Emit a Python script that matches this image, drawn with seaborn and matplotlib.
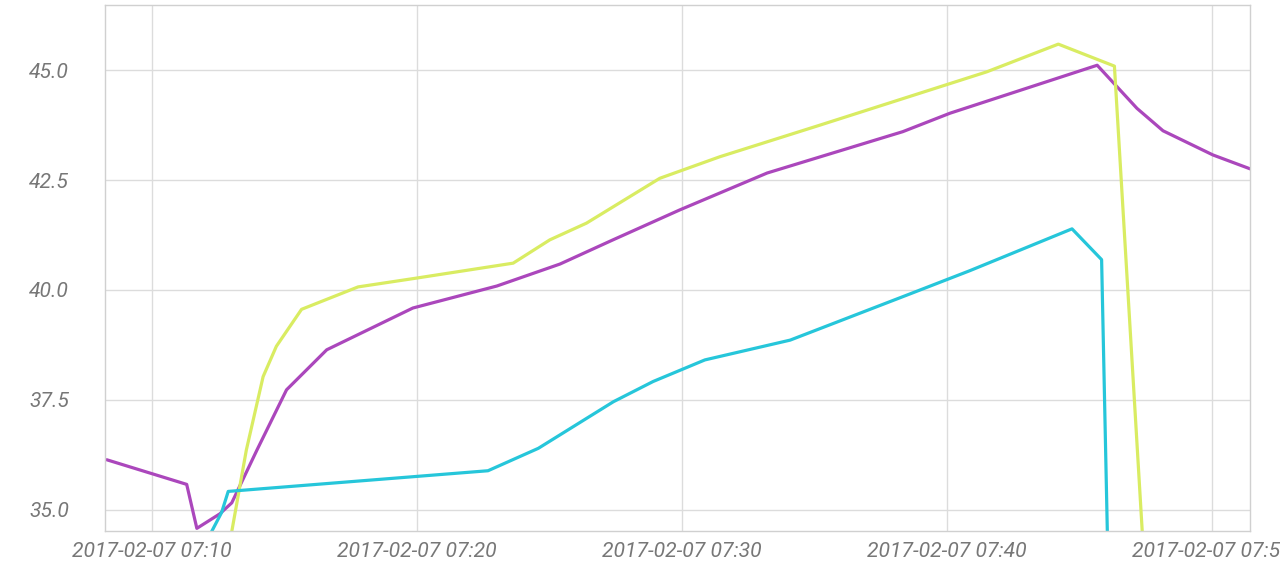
import matplotlib
matplotlib.use("Agg")
import matplotlib.pyplot as plt
import matplotlib.dates as mdates
from matplotlib.ticker import FormatStrFormatter
import seaborn as sns
import pandas as pd

day = "2017-02-07 "

purple_times = ["07:08:18", "07:11:19", "07:11:42", "07:12:34", "07:13:01", "07:13:58",
                "07:15:05", "07:16:36", "07:19:51", "07:23:01", "07:25:24", "07:27:24",
                "07:29:55", "07:33:13", "07:38:20", "07:40:07", "07:45:40", "07:47:10",
                "07:48:09", "07:50:02", "07:51:30"]
purple_vals = [36.14, 35.58, 34.58, 34.91, 35.16, 36.36, 37.73, 38.64, 39.59, 40.09, 40.59,
               41.14, 41.82, 42.66, 43.60, 44.02, 45.11, 44.13, 43.62, 43.07, 42.74]

lime_times = ["07:12:52", "07:13:34", "07:14:12", "07:14:42", "07:15:39", "07:17:47",
              "07:19:59", "07:23:38", "07:25:01", "07:26:24", "07:29:10", "07:31:26",
              "07:35:13", "07:41:30", "07:44:12", "07:46:19", "07:47:25"]
lime_vals = [34.0, 36.36, 38.03, 38.72, 39.56, 40.07, 40.27, 40.61, 41.14, 41.52, 42.54,
             43.03, 43.75, 44.96, 45.59, 45.09, 34.0]

cyan_times = ["07:11:49", "07:12:38", "07:12:53", "07:22:41", "07:24:35", "07:27:25",
              "07:28:55", "07:30:52", "07:34:05", "07:38:36", "07:40:52", "07:44:43",
              "07:45:50", "07:46:04"]
cyan_vals = [34.0, 34.94, 35.42, 35.89, 36.40, 37.46, 37.92, 38.41, 38.86, 39.91, 40.44,
             41.39, 40.69, 34.0]

colors = {"purple": "#ab47bc", "lime": "#d9ec62", "cyan": "#26c6da"}

frames = []
for name, times, vals in [("purple", purple_times, purple_vals),
                          ("lime", lime_times, lime_vals),
                          ("cyan", cyan_times, cyan_vals)]:
    frames.append(pd.DataFrame({"time": pd.to_datetime([day + t for t in times]),
                                "value": vals, "series": name}))
df = pd.concat(frames, ignore_index=True)

sns.set_theme(style="whitegrid")
plt.rcParams["font.family"] = ["Roboto", "DejaVu Sans"]

fig = plt.figure(figsize=(12.8, 5.67), dpi=100)
ax = fig.add_axes([0.082, 0.0635, 0.8946, 0.9277])

sns.lineplot(data=df, x="time", y="value", hue="series", palette=colors,
             hue_order=["purple", "lime", "cyan"], linewidth=2.3, legend=False,
             sort=False, estimator=None, ax=ax)

ax.set_xlim(pd.Timestamp(day + "07:08:14"), pd.Timestamp(day + "07:51:26"))
ax.set_ylim(34.52, 46.48)
ax.set_yticks([35.0, 37.5, 40.0, 42.5, 45.0])
ax.yaxis.set_major_formatter(FormatStrFormatter("%.1f"))
ax.xaxis.set_major_locator(mdates.MinuteLocator(byminute=[0, 10, 20, 30, 40, 50]))
ax.xaxis.set_major_formatter(mdates.DateFormatter("%Y-%m-%d %H:%M"))

ax.set_xlabel("")
ax.set_ylabel("")
ax.grid(True, color="#dcdcdc", linewidth=1)
for s in ax.spines.values():
    s.set_visible(True)
    s.set_color("#d0d0d0")
    s.set_linewidth(1)

ax.tick_params(axis="both", length=0, labelsize=15.2, labelcolor="#777777")
ax.tick_params(axis="y", pad=26)
ax.tick_params(axis="x", pad=8)
for lbl in ax.get_xticklabels() + ax.get_yticklabels():
    lbl.set_fontstyle("italic")

fig.savefig("out.png", dpi=100)
